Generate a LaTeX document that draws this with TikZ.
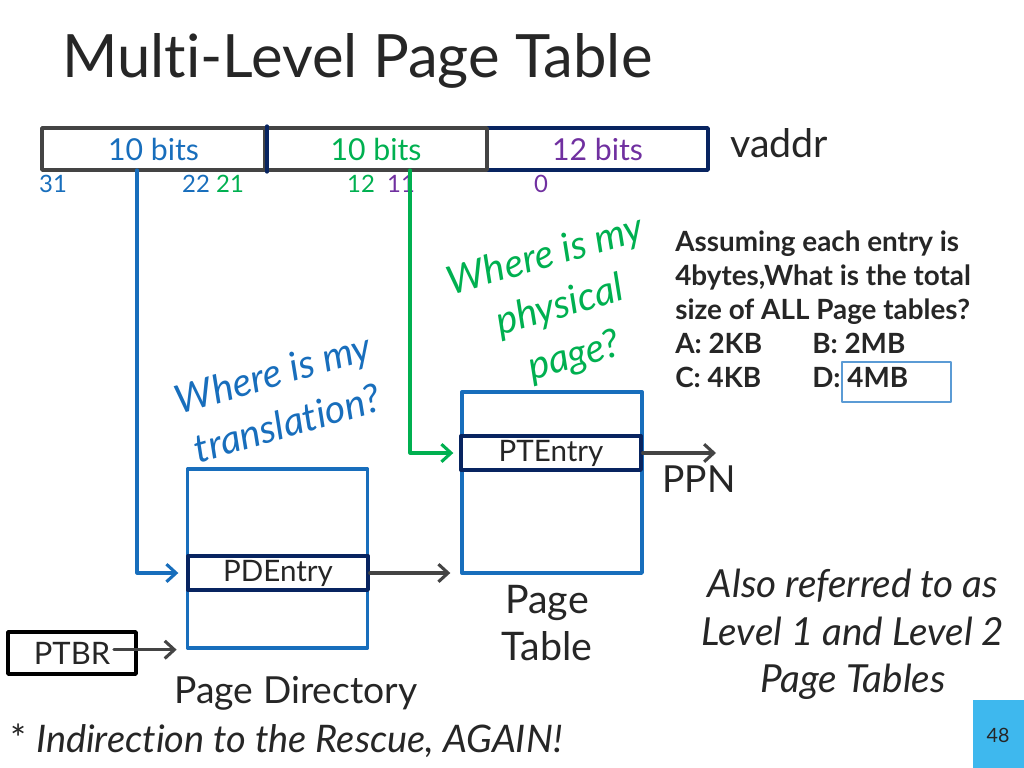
\documentclass[tikz,border=0pt]{standalone}
\usepackage{fontspec}
\setmainfont{Lato}[Ligatures=NoCommon]
\usetikzlibrary{arrows.meta,positioning,calc}
\newlength\pxu
\setlength\pxu{0.025cm}
\definecolor{blu}{RGB}{24,110,188}
\definecolor{grn}{RGB}{0,176,80}
\definecolor{pur}{RGB}{112,48,160}
\definecolor{nav}{RGB}{8,36,96}
\definecolor{gry}{RGB}{68,68,68}
\definecolor{txt}{RGB}{38,38,38}
\definecolor{lblu}{RGB}{91,155,213}
\definecolor{numbg}{RGB}{62,184,238}

\begin{document}
\begin{tikzpicture}[x=0.025cm,y=-0.025cm,line join=round,line cap=round,
  every node/.style={text=txt,inner sep=0pt},
  fld/.style={line width=2.6pt,minimum height=42\pxu,font=\fontsize{21.5}{25}\selectfont},
  num/.style={font=\fontsize{17}{20}\selectfont,anchor=base},
  tbl/.style={draw=blu,line width=2.4pt,minimum width=180\pxu},
  ent/.style={draw=nav,fill=white,line width=2.4pt,minimum width=180\pxu,minimum height=34\pxu,font=\fontsize{21}{25}\selectfont},
  arr/.style={-{Straight Barb[length=2.4mm,width=4.4mm]},line width=2.2pt},
  ask/.style={rotate=16,align=center,font=\fontsize{28}{37}\itshape\selectfont},
  qst/.style={anchor=base west,font=\fontsize{19.8}{24}\bfseries\selectfont},
  big/.style={anchor=base,font=\fontsize{28}{33}\selectfont}]
\useasboundingbox (0,0) rectangle (1024,768);

\node[anchor=base west,font=\fontsize{42.5}{50}\selectfont] (title) at (62,78) {Multi-Level Page Table};

\node[fld,draw=nav,minimum width=221\pxu,text=pur] (fC) at (597.5,149) {12 bits};
\node[fld,draw=gry,minimum width=223\pxu,text=blu] (fA) at (153.5,149) {10 bits};
\node[fld,draw=gry,minimum width=222\pxu,text=grn] (fB) at (376,149) {10 bits};
\draw[nav,line width=2.6pt] (fA.north east) -- (fA.south east);
\node[anchor=base west,font=\fontsize{28}{33}\selectfont] (vaddr) at (730,157) {vaddr};
\foreach \t/\x/\c in {31/53/blu,22/196/blu,21/230/grn,12/361/grn,11/401/pur,0/541/pur}
  \node[num,text=\c] (n\t) at (\x,192) {\t};

\node[tbl,minimum height=179\pxu] (pd) at (277.5,558.5) {};
\node[ent] (pde) at (278,573) {PDEntry};
\node[tbl,minimum height=181\pxu] (pt) at (552,482.5) {};
\node[ent] (pte) at (551,453) {PTEntry};
\node[draw=black,line width=2.6pt,minimum width=128\pxu,minimum height=42\pxu,font=\fontsize{22}{26}\selectfont] (ptbr) at (72,653) {PTBR};

\coordinate (bA) at (137,170);
\coordinate (bB) at (410,170);
\draw[arr,blu,shorten >=2mm] (bA) |- (pde.west);
\draw[arr,grn,shorten >=1.5mm] (bB) |- (pte.west);
\draw[arr,gry,shorten >=2.5mm] (pde.east) -- (pde.east -| pt.west);
\coordinate (ppn) at (716,453);
\draw[arr,gry] (pte.east) -- (ppn);
\coordinate (pb) at ([xshift=-6mm]ptbr.east |- pd.south);
\draw[arr,gry,shorten >=2.3mm] (pb) -- (pd.south west);

\node[anchor=base west,font=\fontsize{26.5}{31}\selectfont] (ppnl) at (662,492) {PPN};
\node[big,font=\fontsize{26.5}{31}\selectfont] (pdl) at (296,703) {Page Directory};
\node[big] (ptl1) at (547,613) {Page};
\node[big] (ptl2) at (547,660) {Table};

\node[ask,text=blu] (qtr) at (280,398) {Where is my\\translation?};
\node[ask,text=grn] (qpg) at (560,307) {Where is my\\physical\\page?};

\foreach \t/\y in {Assuming each entry is/251,{4bytes,What is the total}/285,size of ALL Page tables?/319}
  \node[qst] (q\y) at (675,\y) {\t};
\foreach \t/\x/\y/\n in {A: 2KB/675/353/a,B: 2MB/812/353/b,C: 4KB/675/387/c,D: 4MB/812/387/d}
  \node[qst] (ans\n) at (\x,\y) {\t};
\draw[lblu,line width=1.2pt] (842,362) rectangle (951,402);

\foreach \t/\y in {Also referred to as/597,Level 1 and Level 2/645,Page Tables/692}
  \node[big,font=\fontsize{27.5}{33}\itshape\selectfont] (lv\y) at (853,\y) {\t};

\node[anchor=base west,font=\fontsize{27}{32}\selectfont] (note) at (10,752) {* \textit{Indirection to the Rescue, AGAIN!}};

\fill[numbg] (973,700) rectangle (1024,768);
\node[font=\fontsize{14}{16}\selectfont] (pg) at (998,735) {48};
\end{tikzpicture}
\end{document}
